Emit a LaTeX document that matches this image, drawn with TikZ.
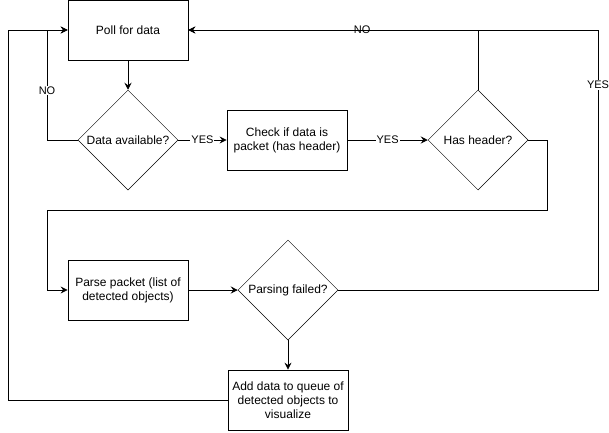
\documentclass[tikz,border=0pt]{standalone}
\usepackage{fontspec}
\setmainfont{Liberation Sans}
\usetikzlibrary{shapes.geometric,arrows.meta}
\begin{document}
\begin{tikzpicture}[x=1pt,y=-1pt,
  box/.style={draw, line width=0.8pt, minimum width=120pt, minimum height=60pt, inner sep=2pt, align=center, font=\fontsize{12}{14}\selectfont},
  dia/.style={draw, diamond, line width=0.5pt, minimum width=100pt, minimum height=100pt, aspect=1, inner sep=0pt, align=center, font=\fontsize{12}{14}\selectfont},
  conn/.style={line width=0.8pt},
  arr/.style={conn, -{Stealth[length=7pt,width=7pt,inset=2.5pt]}},
  lbl/.style={fill=white, inner sep=1pt, font=\fontsize{11}{13}\selectfont}]
\useasboundingbox (0,0) rectangle (609,432);
\node[box] (poll) at (128,30) {Poll for data};
\node[dia] (d1) at (128,140) {Data available?};
\node[box] (chk) at (287,140) {Check if data is\\packet (has header)};
\node[dia] (d2) at (478,140) {Has header?};
\node[box] (parse) at (128,290) {Parse packet (list of\\detected objects)};
\node[dia] (d3) at (288,290) {Parsing failed?};
\node[box] (add) at (288,400) {Add data to queue of\\detected objects to\\visualize};
\coordinate (n1) at (47,140);
\coordinate (n2) at (47,30);
\coordinate (h1) at (547,140);
\coordinate (h2) at (547,210);
\coordinate (h3) at (47,210);
\coordinate (h4) at (47,290);
\coordinate (r1) at (598,290);
\coordinate (r2) at (598,30);
\coordinate (t1) at (478,30);
\coordinate (l1) at (8,400);
\coordinate (l2) at (8,30);
\draw[arr] (poll) -- (d1);
\draw[arr] (d1.west) -- (n1) -- node[lbl, pos=0.45]{NO} (n2) -- (poll.west);
\draw[arr] (d1.east) -- node[lbl]{YES} (chk.west);
\draw[arr] (chk.east) -- node[lbl]{YES} (d2.west);
\draw[arr] (d2.north) -- (t1) -- node[lbl, pos=0.4]{NO} (poll.east);
\draw[arr] (d2.east) -- (h1) -- (h2) -- (h3) -- (h4) -- (parse.west);
\draw[arr] (parse.east) -- (d3.west);
\draw[arr] (d3.east) -- (r1) -- node[lbl, pos=0.79]{YES} (r2) -- (poll.east);
\draw[arr] (d3.south) -- (add.north);
\draw[arr] (add.west) -- (l1) -- (l2) -- (poll.west);
\end{tikzpicture}
\end{document}
